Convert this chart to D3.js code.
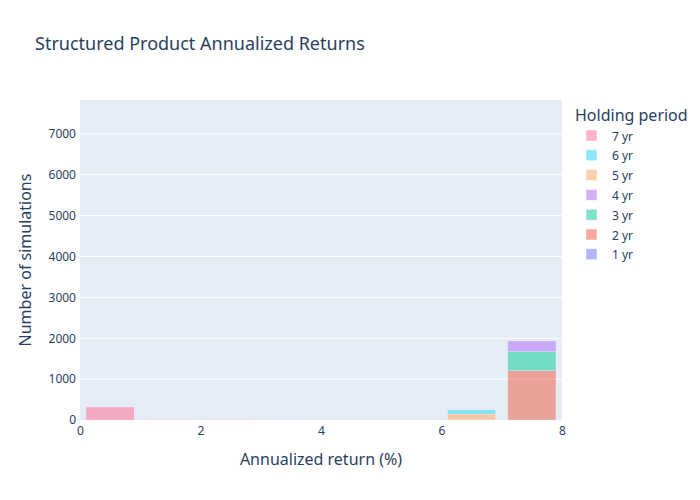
<!DOCTYPE html>
<html>
<head>
<meta charset="utf-8">
<script src="https://cdn.jsdelivr.net/npm/d3@7"></script>
<style>
  body { margin: 0; background: #fff; }
  text { font-family: "Noto Sans", "Open Sans", sans-serif; fill: #2a3f5f; }
</style>
</head>
<body>
<div id="chart"></div>
<script>
// histogram bins (lower edge, width 1)
var binStarts = [0, 1, 2, 3, 4, 5, 6, 7];
var periods = ["1 yr", "2 yr", "3 yr", "4 yr", "5 yr", "6 yr", "7 yr"];
var colors = ["#636efa", "#EF553B", "#00cc96", "#ab63fa", "#FFA15A", "#19d3f3", "#FF6692"];

// counts per bin (stacked)
var yr1 = [0, 0, 0, 0, 0, 0, 0, 0];
var yr2 = [0, 0, 0, 0, 0, 0, 0, 1207];
var yr3 = [0, 0, 0, 0, 0, 0, 0, 465];
var yr4 = [0, 0, 0, 0, 0, 0, 0, 261];
var yr5 = [0, 0, 0, 0, 0, 0, 147, 0];
var yr6 = [0, 0, 0, 4, 0, 0, 98, 0];
var yr7 = [318, 14, 12, 0, 0, 0, 0, 0];
var series = [yr1, yr2, yr3, yr4, yr5, yr6, yr7];

var xTicks = [0, 2, 4, 6, 8];
var yTicks = [0, 1000, 2000, 3000, 4000, 5000, 6000, 7000];

var W = 700, H = 500;
var margin = { top: 100, right: 138, bottom: 80, left: 80 };
var width = W - margin.left - margin.right,
    height = H - margin.top - margin.bottom;

var svg = d3.select("#chart").append("svg")
    .attr("width", W).attr("height", H);

svg.append("text")
    .attr("x", 35).attr("y", 50)
    .style("font-size", "18px")
    .text("Structured Product Annualized Returns");

var chart = svg.append("g")
    .attr("transform", "translate(" + margin.left + "," + margin.top + ")");

chart.append("rect")
    .attr("width", width).attr("height", height)
    .attr("fill", "#E5ECF6");

var xScale = d3.scaleLinear().domain([0, 8]).range([0, width]);
var yScale = d3.scaleLinear().domain([0, 7830]).range([height, 0]);

// grid
chart.selectAll(".grid")
    .data(yTicks.slice(1))
    .enter().append("line")
    .attr("x1", 0).attr("x2", width)
    .attr("y1", function (d) { return yScale(d); })
    .attr("y2", function (d) { return yScale(d); })
    .attr("stroke", "#fff").attr("stroke-width", 1);

// stacked bars
var stacked = [];
binStarts.forEach(function (b, i) {
    var base = 0;
    series.forEach(function (s, k) {
        if (s[i] > 0) stacked.push({ bin: b, k: k, y0: base, y1: base + s[i] });
        base += s[i];
    });
});

var bw = xScale(1) - xScale(0);
chart.selectAll(".bar")
    .data(stacked)
    .enter().append("rect")
    .attr("class", "bar")
    .attr("x", function (d) { return xScale(d.bin) + bw * 0.1; })
    .attr("width", bw * 0.8)
    .attr("y", function (d) { return yScale(d.y1); })
    .attr("height", function (d) { return yScale(d.y0) - yScale(d.y1); })
    .attr("fill", function (d) { return colors[d.k]; })
    .attr("fill-opacity", 0.5)
    .attr("stroke", "#fff").attr("stroke-width", 0.5).attr("stroke-opacity", 0.5);

// axes
var xAxis = chart.append("g")
    .attr("transform", "translate(0," + height + ")")
    .call(d3.axisBottom(xScale).tickValues(xTicks).tickSize(0).tickPadding(6));
var yAxis = chart.append("g")
    .call(d3.axisLeft(yScale).tickValues(yTicks).tickFormat(d3.format("d")).tickSize(0).tickPadding(4));
[xAxis, yAxis].forEach(function (a) {
    a.select(".domain").remove();
    a.selectAll("text").style("font-size", "12px").style("fill", "#2a3f5f")
        .style("font-family", "'Noto Sans', 'Open Sans', sans-serif");
});

svg.append("text")
    .attr("x", margin.left + width / 2).attr("y", 465)
    .attr("text-anchor", "middle")
    .style("font-size", "16px")
    .text("Annualized return (%)");

svg.append("text")
    .attr("transform", "translate(31," + (margin.top + height / 2) + ") rotate(-90)")
    .attr("text-anchor", "middle")
    .style("font-size", "16px")
    .text("Number of simulations");

// legend (reversed order like stacked bars)
var legend = svg.append("g").attr("transform", "translate(575,0)");
legend.append("text")
    .attr("x", 0).attr("y", 121)
    .style("font-size", "16px")
    .text("Holding period");

var items = periods.map(function (p, i) { return { p: p, k: i }; }).reverse();
var li = legend.selectAll(".item")
    .data(items)
    .enter().append("g")
    .attr("transform", function (d, i) { return "translate(0," + (136 + i * 19.8) + ")"; });
li.append("rect")
    .attr("x", 11).attr("y", -6).attr("width", 11).attr("height", 11)
    .attr("fill", function (d) { return colors[d.k]; })
    .attr("fill-opacity", 0.5)
    .attr("stroke", "#fff").attr("stroke-width", 0.5);
li.append("text")
    .attr("x", 37).attr("y", 4.5)
    .style("font-size", "12px")
    .text(function (d) { return d.p; });
</script>
</body>
</html>
